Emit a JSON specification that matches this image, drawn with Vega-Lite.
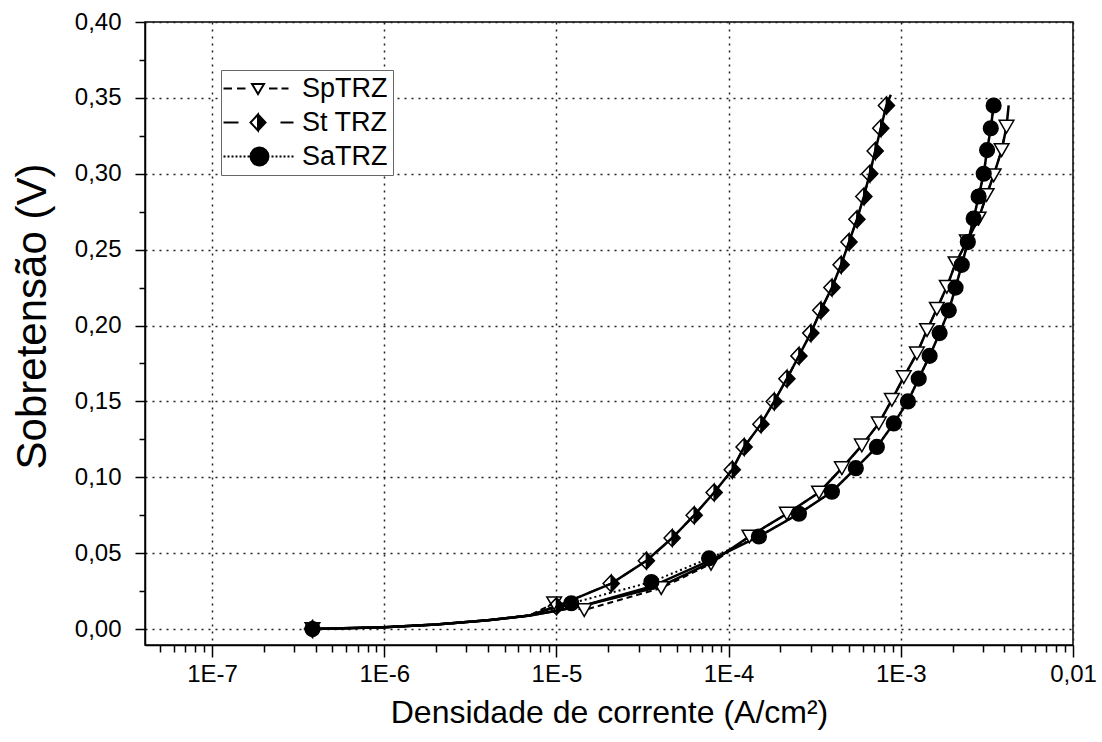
{
  "$schema": "https://vega.github.io/schema/vega-lite/v6.json",
  "autosize": {"type": "none"},
  "padding": {"left": 145, "top": 22, "right": 29, "bottom": 97},
  "width": 928,
  "height": 623,
  "background": "white",
  "datasets": {
    "points": [
      {"series": "SpTRZ", "j": 3.83e-7, "v": 0},
      {"series": "SpTRZ", "j": 9.7e-6, "v": 0.017},
      {"series": "SpTRZ", "j": 1.45e-5, "v": 0.0125},
      {"series": "SpTRZ", "j": 4.06e-5, "v": 0.027},
      {"series": "SpTRZ", "j": 7.9e-5, "v": 0.043},
      {"series": "SpTRZ", "j": 1.32e-4, "v": 0.061},
      {"series": "SpTRZ", "j": 2.18e-4, "v": 0.076},
      {"series": "SpTRZ", "j": 3.35e-4, "v": 0.090},
      {"series": "SpTRZ", "j": 4.55e-4, "v": 0.106},
      {"series": "SpTRZ", "j": 5.94e-4, "v": 0.121},
      {"series": "SpTRZ", "j": 7.45e-4, "v": 0.1355},
      {"series": "SpTRZ", "j": 8.87e-4, "v": 0.151},
      {"series": "SpTRZ", "j": 1.04e-3, "v": 0.166},
      {"series": "SpTRZ", "j": 1.24e-3, "v": 0.1816},
      {"series": "SpTRZ", "j": 1.42e-3, "v": 0.197},
      {"series": "SpTRZ", "j": 1.62e-3, "v": 0.211},
      {"series": "SpTRZ", "j": 1.85e-3, "v": 0.2255},
      {"series": "SpTRZ", "j": 2.08e-3, "v": 0.241},
      {"series": "SpTRZ", "j": 2.42e-3, "v": 0.2555},
      {"series": "SpTRZ", "j": 2.83e-3, "v": 0.2705},
      {"series": "SpTRZ", "j": 3.15e-3, "v": 0.286},
      {"series": "SpTRZ", "j": 3.46e-3, "v": 0.299},
      {"series": "SpTRZ", "j": 3.85e-3, "v": 0.3156},
      {"series": "SpTRZ", "j": 4.11e-3, "v": 0.331},
      {"series": "St TRZ", "j": 3.83e-7, "v": 0},
      {"series": "St TRZ", "j": 1.0e-5, "v": 0.015},
      {"series": "St TRZ", "j": 2.08e-5, "v": 0.030},
      {"series": "St TRZ", "j": 3.33e-5, "v": 0.045},
      {"series": "St TRZ", "j": 4.7e-5, "v": 0.060},
      {"series": "St TRZ", "j": 6.31e-5, "v": 0.075},
      {"series": "St TRZ", "j": 8.24e-5, "v": 0.090},
      {"series": "St TRZ", "j": 1.05e-4, "v": 0.105},
      {"series": "St TRZ", "j": 1.23e-4, "v": 0.120},
      {"series": "St TRZ", "j": 1.54e-4, "v": 0.135},
      {"series": "St TRZ", "j": 1.84e-4, "v": 0.150},
      {"series": "St TRZ", "j": 2.18e-4, "v": 0.165},
      {"series": "St TRZ", "j": 2.56e-4, "v": 0.180},
      {"series": "St TRZ", "j": 3.0e-4, "v": 0.195},
      {"series": "St TRZ", "j": 3.43e-4, "v": 0.210},
      {"series": "St TRZ", "j": 3.98e-4, "v": 0.225},
      {"series": "St TRZ", "j": 4.5e-4, "v": 0.240},
      {"series": "St TRZ", "j": 5.0e-4, "v": 0.255},
      {"series": "St TRZ", "j": 5.56e-4, "v": 0.270},
      {"series": "St TRZ", "j": 6.1e-4, "v": 0.285},
      {"series": "St TRZ", "j": 6.6e-4, "v": 0.300},
      {"series": "St TRZ", "j": 7.1e-4, "v": 0.315},
      {"series": "St TRZ", "j": 7.65e-4, "v": 0.330},
      {"series": "St TRZ", "j": 8.25e-4, "v": 0.345},
      {"series": "SaTRZ", "j": 3.83e-7, "v": 0},
      {"series": "SaTRZ", "j": 1.22e-5, "v": 0.017},
      {"series": "SaTRZ", "j": 3.56e-5, "v": 0.031},
      {"series": "SaTRZ", "j": 7.7e-5, "v": 0.0466},
      {"series": "SaTRZ", "j": 1.5e-4, "v": 0.061},
      {"series": "SaTRZ", "j": 2.56e-4, "v": 0.076},
      {"series": "SaTRZ", "j": 3.98e-4, "v": 0.0905},
      {"series": "SaTRZ", "j": 5.48e-4, "v": 0.106},
      {"series": "SaTRZ", "j": 7.26e-4, "v": 0.120},
      {"series": "SaTRZ", "j": 9.1e-4, "v": 0.1355},
      {"series": "SaTRZ", "j": 1.10e-3, "v": 0.150},
      {"series": "SaTRZ", "j": 1.27e-3, "v": 0.165},
      {"series": "SaTRZ", "j": 1.47e-3, "v": 0.180},
      {"series": "SaTRZ", "j": 1.68e-3, "v": 0.195},
      {"series": "SaTRZ", "j": 1.90e-3, "v": 0.210},
      {"series": "SaTRZ", "j": 2.08e-3, "v": 0.225},
      {"series": "SaTRZ", "j": 2.26e-3, "v": 0.240},
      {"series": "SaTRZ", "j": 2.45e-3, "v": 0.255},
      {"series": "SaTRZ", "j": 2.65e-3, "v": 0.2705},
      {"series": "SaTRZ", "j": 2.83e-3, "v": 0.285},
      {"series": "SaTRZ", "j": 3.03e-3, "v": 0.300},
      {"series": "SaTRZ", "j": 3.17e-3, "v": 0.3156},
      {"series": "SaTRZ", "j": 3.33e-3, "v": 0.330},
      {"series": "SaTRZ", "j": 3.46e-3, "v": 0.345}
    ],
    "curves": [
      {"series": "SpTRZ", "kind": "data", "j": 3.83e-7, "v": 0},
      {"series": "SpTRZ", "kind": "data", "j": 1e-6, "v": 0.0012},
      {"series": "SpTRZ", "kind": "data", "j": 2e-6, "v": 0.003},
      {"series": "SpTRZ", "kind": "data", "j": 4e-6, "v": 0.0058},
      {"series": "SpTRZ", "kind": "data", "j": 7e-6, "v": 0.009},
      {"series": "SpTRZ", "kind": "data", "j": 9.7e-6, "v": 0.017},
      {"series": "SpTRZ", "kind": "data", "j": 1.45e-5, "v": 0.0125},
      {"series": "SpTRZ", "kind": "data", "j": 4.06e-5, "v": 0.027},
      {"series": "SpTRZ", "kind": "data", "j": 7.9e-5, "v": 0.043},
      {"series": "SpTRZ", "kind": "data", "j": 1.32e-4, "v": 0.061},
      {"series": "SpTRZ", "kind": "data", "j": 2.18e-4, "v": 0.076},
      {"series": "SpTRZ", "kind": "data", "j": 3.35e-4, "v": 0.090},
      {"series": "SpTRZ", "kind": "data", "j": 4.55e-4, "v": 0.106},
      {"series": "SpTRZ", "kind": "data", "j": 5.94e-4, "v": 0.121},
      {"series": "SpTRZ", "kind": "data", "j": 7.45e-4, "v": 0.1355},
      {"series": "SpTRZ", "kind": "data", "j": 8.87e-4, "v": 0.151},
      {"series": "SpTRZ", "kind": "data", "j": 1.04e-3, "v": 0.166},
      {"series": "SpTRZ", "kind": "data", "j": 1.24e-3, "v": 0.1816},
      {"series": "SpTRZ", "kind": "data", "j": 1.42e-3, "v": 0.197},
      {"series": "SpTRZ", "kind": "data", "j": 1.62e-3, "v": 0.211},
      {"series": "SpTRZ", "kind": "data", "j": 1.85e-3, "v": 0.2255},
      {"series": "SpTRZ", "kind": "data", "j": 2.08e-3, "v": 0.241},
      {"series": "SpTRZ", "kind": "data", "j": 2.42e-3, "v": 0.2555},
      {"series": "SpTRZ", "kind": "data", "j": 2.83e-3, "v": 0.2705},
      {"series": "SpTRZ", "kind": "data", "j": 3.15e-3, "v": 0.286},
      {"series": "SpTRZ", "kind": "data", "j": 3.46e-3, "v": 0.299},
      {"series": "SpTRZ", "kind": "data", "j": 3.85e-3, "v": 0.3156},
      {"series": "SpTRZ", "kind": "data", "j": 4.11e-3, "v": 0.331},
      {"series": "St TRZ", "kind": "data", "j": 3.83e-7, "v": 0},
      {"series": "St TRZ", "kind": "data", "j": 1e-6, "v": 0.0012},
      {"series": "St TRZ", "kind": "data", "j": 2e-6, "v": 0.003},
      {"series": "St TRZ", "kind": "data", "j": 4e-6, "v": 0.0058},
      {"series": "St TRZ", "kind": "data", "j": 7e-6, "v": 0.009},
      {"series": "St TRZ", "kind": "data", "j": 1.0e-5, "v": 0.015},
      {"series": "St TRZ", "kind": "data", "j": 2.08e-5, "v": 0.030},
      {"series": "St TRZ", "kind": "data", "j": 3.33e-5, "v": 0.045},
      {"series": "St TRZ", "kind": "data", "j": 4.7e-5, "v": 0.060},
      {"series": "St TRZ", "kind": "data", "j": 6.31e-5, "v": 0.075},
      {"series": "St TRZ", "kind": "data", "j": 8.24e-5, "v": 0.090},
      {"series": "St TRZ", "kind": "data", "j": 1.05e-4, "v": 0.105},
      {"series": "St TRZ", "kind": "data", "j": 1.23e-4, "v": 0.120},
      {"series": "St TRZ", "kind": "data", "j": 1.54e-4, "v": 0.135},
      {"series": "St TRZ", "kind": "data", "j": 1.84e-4, "v": 0.150},
      {"series": "St TRZ", "kind": "data", "j": 2.18e-4, "v": 0.165},
      {"series": "St TRZ", "kind": "data", "j": 2.56e-4, "v": 0.180},
      {"series": "St TRZ", "kind": "data", "j": 3.0e-4, "v": 0.195},
      {"series": "St TRZ", "kind": "data", "j": 3.43e-4, "v": 0.210},
      {"series": "St TRZ", "kind": "data", "j": 3.98e-4, "v": 0.225},
      {"series": "St TRZ", "kind": "data", "j": 4.5e-4, "v": 0.240},
      {"series": "St TRZ", "kind": "data", "j": 5.0e-4, "v": 0.255},
      {"series": "St TRZ", "kind": "data", "j": 5.56e-4, "v": 0.270},
      {"series": "St TRZ", "kind": "data", "j": 6.1e-4, "v": 0.285},
      {"series": "St TRZ", "kind": "data", "j": 6.6e-4, "v": 0.300},
      {"series": "St TRZ", "kind": "data", "j": 7.1e-4, "v": 0.315},
      {"series": "St TRZ", "kind": "data", "j": 7.65e-4, "v": 0.330},
      {"series": "St TRZ", "kind": "data", "j": 8.25e-4, "v": 0.345},
      {"series": "SaTRZ", "kind": "data", "j": 3.83e-7, "v": 0},
      {"series": "SaTRZ", "kind": "data", "j": 1e-6, "v": 0.0012},
      {"series": "SaTRZ", "kind": "data", "j": 2e-6, "v": 0.003},
      {"series": "SaTRZ", "kind": "data", "j": 4e-6, "v": 0.0058},
      {"series": "SaTRZ", "kind": "data", "j": 7e-6, "v": 0.009},
      {"series": "SaTRZ", "kind": "data", "j": 1.22e-5, "v": 0.017},
      {"series": "SaTRZ", "kind": "data", "j": 3.56e-5, "v": 0.031},
      {"series": "SaTRZ", "kind": "data", "j": 7.7e-5, "v": 0.0466},
      {"series": "SaTRZ", "kind": "data", "j": 1.5e-4, "v": 0.061},
      {"series": "SaTRZ", "kind": "data", "j": 2.56e-4, "v": 0.076},
      {"series": "SaTRZ", "kind": "data", "j": 3.98e-4, "v": 0.0905},
      {"series": "SaTRZ", "kind": "data", "j": 5.48e-4, "v": 0.106},
      {"series": "SaTRZ", "kind": "data", "j": 7.26e-4, "v": 0.120},
      {"series": "SaTRZ", "kind": "data", "j": 9.1e-4, "v": 0.1355},
      {"series": "SaTRZ", "kind": "data", "j": 1.10e-3, "v": 0.150},
      {"series": "SaTRZ", "kind": "data", "j": 1.27e-3, "v": 0.165},
      {"series": "SaTRZ", "kind": "data", "j": 1.47e-3, "v": 0.180},
      {"series": "SaTRZ", "kind": "data", "j": 1.68e-3, "v": 0.195},
      {"series": "SaTRZ", "kind": "data", "j": 1.90e-3, "v": 0.210},
      {"series": "SaTRZ", "kind": "data", "j": 2.08e-3, "v": 0.225},
      {"series": "SaTRZ", "kind": "data", "j": 2.26e-3, "v": 0.240},
      {"series": "SaTRZ", "kind": "data", "j": 2.45e-3, "v": 0.255},
      {"series": "SaTRZ", "kind": "data", "j": 2.65e-3, "v": 0.2705},
      {"series": "SaTRZ", "kind": "data", "j": 2.83e-3, "v": 0.285},
      {"series": "SaTRZ", "kind": "data", "j": 3.03e-3, "v": 0.300},
      {"series": "SaTRZ", "kind": "data", "j": 3.17e-3, "v": 0.3156},
      {"series": "SaTRZ", "kind": "data", "j": 3.33e-3, "v": 0.330},
      {"series": "SaTRZ", "kind": "data", "j": 3.46e-3, "v": 0.345},
      {"series": "SpTRZ", "kind": "fit", "j": 3.83e-7, "v": 0},
      {"series": "SpTRZ", "kind": "fit", "j": 1e-6, "v": 0.0012},
      {"series": "SpTRZ", "kind": "fit", "j": 2e-6, "v": 0.003},
      {"series": "SpTRZ", "kind": "fit", "j": 4e-6, "v": 0.0058},
      {"series": "SpTRZ", "kind": "fit", "j": 7e-6, "v": 0.009},
      {"series": "SpTRZ", "kind": "fit", "j": 1e-5, "v": 0.012},
      {"series": "SpTRZ", "kind": "fit", "j": 1.5e-5, "v": 0.016},
      {"series": "SpTRZ", "kind": "fit", "j": 4e-5, "v": 0.028},
      {"series": "SpTRZ", "kind": "fit", "j": 7.9e-5, "v": 0.044},
      {"series": "SpTRZ", "kind": "fit", "j": 1.32e-4, "v": 0.061},
      {"series": "SpTRZ", "kind": "fit", "j": 2.18e-4, "v": 0.076},
      {"series": "SpTRZ", "kind": "fit", "j": 3.35e-4, "v": 0.090},
      {"series": "SpTRZ", "kind": "fit", "j": 4.55e-4, "v": 0.106},
      {"series": "SpTRZ", "kind": "fit", "j": 5.94e-4, "v": 0.121},
      {"series": "SpTRZ", "kind": "fit", "j": 7.45e-4, "v": 0.1355},
      {"series": "SpTRZ", "kind": "fit", "j": 8.87e-4, "v": 0.151},
      {"series": "SpTRZ", "kind": "fit", "j": 1.04e-3, "v": 0.166},
      {"series": "SpTRZ", "kind": "fit", "j": 1.24e-3, "v": 0.1816},
      {"series": "SpTRZ", "kind": "fit", "j": 1.42e-3, "v": 0.197},
      {"series": "SpTRZ", "kind": "fit", "j": 1.62e-3, "v": 0.211},
      {"series": "SpTRZ", "kind": "fit", "j": 1.85e-3, "v": 0.2255},
      {"series": "SpTRZ", "kind": "fit", "j": 2.08e-3, "v": 0.241},
      {"series": "SpTRZ", "kind": "fit", "j": 2.42e-3, "v": 0.2555},
      {"series": "SpTRZ", "kind": "fit", "j": 2.83e-3, "v": 0.2705},
      {"series": "SpTRZ", "kind": "fit", "j": 3.15e-3, "v": 0.286},
      {"series": "SpTRZ", "kind": "fit", "j": 3.46e-3, "v": 0.299},
      {"series": "SpTRZ", "kind": "fit", "j": 3.85e-3, "v": 0.3156},
      {"series": "SpTRZ", "kind": "fit", "j": 4.11e-3, "v": 0.331},
      {"series": "SpTRZ", "kind": "fit", "j": 4.23e-3, "v": 0.345},
      {"series": "St TRZ", "kind": "fit", "j": 3.83e-7, "v": 0},
      {"series": "St TRZ", "kind": "fit", "j": 1e-6, "v": 0.0012},
      {"series": "St TRZ", "kind": "fit", "j": 2e-6, "v": 0.003},
      {"series": "St TRZ", "kind": "fit", "j": 4e-6, "v": 0.0058},
      {"series": "St TRZ", "kind": "fit", "j": 7e-6, "v": 0.009},
      {"series": "St TRZ", "kind": "fit", "j": 1.0e-5, "v": 0.015},
      {"series": "St TRZ", "kind": "fit", "j": 2.08e-5, "v": 0.030},
      {"series": "St TRZ", "kind": "fit", "j": 3.33e-5, "v": 0.045},
      {"series": "St TRZ", "kind": "fit", "j": 4.7e-5, "v": 0.060},
      {"series": "St TRZ", "kind": "fit", "j": 6.31e-5, "v": 0.075},
      {"series": "St TRZ", "kind": "fit", "j": 8.24e-5, "v": 0.090},
      {"series": "St TRZ", "kind": "fit", "j": 1.05e-4, "v": 0.105},
      {"series": "St TRZ", "kind": "fit", "j": 1.23e-4, "v": 0.120},
      {"series": "St TRZ", "kind": "fit", "j": 1.54e-4, "v": 0.135},
      {"series": "St TRZ", "kind": "fit", "j": 1.84e-4, "v": 0.150},
      {"series": "St TRZ", "kind": "fit", "j": 2.18e-4, "v": 0.165},
      {"series": "St TRZ", "kind": "fit", "j": 2.56e-4, "v": 0.180},
      {"series": "St TRZ", "kind": "fit", "j": 3.0e-4, "v": 0.195},
      {"series": "St TRZ", "kind": "fit", "j": 3.43e-4, "v": 0.210},
      {"series": "St TRZ", "kind": "fit", "j": 3.98e-4, "v": 0.225},
      {"series": "St TRZ", "kind": "fit", "j": 4.5e-4, "v": 0.240},
      {"series": "St TRZ", "kind": "fit", "j": 5.0e-4, "v": 0.255},
      {"series": "St TRZ", "kind": "fit", "j": 5.56e-4, "v": 0.270},
      {"series": "St TRZ", "kind": "fit", "j": 6.1e-4, "v": 0.285},
      {"series": "St TRZ", "kind": "fit", "j": 6.6e-4, "v": 0.300},
      {"series": "St TRZ", "kind": "fit", "j": 7.1e-4, "v": 0.315},
      {"series": "St TRZ", "kind": "fit", "j": 7.65e-4, "v": 0.330},
      {"series": "St TRZ", "kind": "fit", "j": 8.25e-4, "v": 0.345},
      {"series": "St TRZ", "kind": "fit", "j": 8.75e-4, "v": 0.352},
      {"series": "SaTRZ", "kind": "fit", "j": 3.83e-7, "v": 0},
      {"series": "SaTRZ", "kind": "fit", "j": 1e-6, "v": 0.0012},
      {"series": "SaTRZ", "kind": "fit", "j": 2e-6, "v": 0.003},
      {"series": "SaTRZ", "kind": "fit", "j": 4e-6, "v": 0.0058},
      {"series": "SaTRZ", "kind": "fit", "j": 7e-6, "v": 0.009},
      {"series": "SaTRZ", "kind": "fit", "j": 1e-5, "v": 0.012},
      {"series": "SaTRZ", "kind": "fit", "j": 1.5e-5, "v": 0.016},
      {"series": "SaTRZ", "kind": "fit", "j": 3.56e-5, "v": 0.028},
      {"series": "SaTRZ", "kind": "fit", "j": 7.7e-5, "v": 0.045},
      {"series": "SaTRZ", "kind": "fit", "j": 1.5e-4, "v": 0.061},
      {"series": "SaTRZ", "kind": "fit", "j": 2.56e-4, "v": 0.076},
      {"series": "SaTRZ", "kind": "fit", "j": 3.98e-4, "v": 0.0905},
      {"series": "SaTRZ", "kind": "fit", "j": 5.48e-4, "v": 0.106},
      {"series": "SaTRZ", "kind": "fit", "j": 7.26e-4, "v": 0.120},
      {"series": "SaTRZ", "kind": "fit", "j": 9.1e-4, "v": 0.1355},
      {"series": "SaTRZ", "kind": "fit", "j": 1.10e-3, "v": 0.150},
      {"series": "SaTRZ", "kind": "fit", "j": 1.27e-3, "v": 0.165},
      {"series": "SaTRZ", "kind": "fit", "j": 1.47e-3, "v": 0.180},
      {"series": "SaTRZ", "kind": "fit", "j": 1.68e-3, "v": 0.195},
      {"series": "SaTRZ", "kind": "fit", "j": 1.90e-3, "v": 0.210},
      {"series": "SaTRZ", "kind": "fit", "j": 2.08e-3, "v": 0.225},
      {"series": "SaTRZ", "kind": "fit", "j": 2.26e-3, "v": 0.240},
      {"series": "SaTRZ", "kind": "fit", "j": 2.45e-3, "v": 0.255},
      {"series": "SaTRZ", "kind": "fit", "j": 2.65e-3, "v": 0.2705},
      {"series": "SaTRZ", "kind": "fit", "j": 2.83e-3, "v": 0.285},
      {"series": "SaTRZ", "kind": "fit", "j": 3.03e-3, "v": 0.300},
      {"series": "SaTRZ", "kind": "fit", "j": 3.17e-3, "v": 0.3156},
      {"series": "SaTRZ", "kind": "fit", "j": 3.33e-3, "v": 0.330},
      {"series": "SaTRZ", "kind": "fit", "j": 3.46e-3, "v": 0.345}
    ]
  },
  "encoding": {
    "x": {
      "field": "j", "type": "quantitative",
      "scale": {"type": "log", "domain": [4.08e-8, 0.01], "nice": false},
      "axis": {
        "values": [5e-8, 6e-8, 7e-8, 8e-8, 9e-8, 1e-7, 2e-7, 3e-7, 4e-7, 5e-7, 6e-7, 7e-7, 8e-7, 9e-7, 1e-6, 2e-6, 3e-6, 4e-6, 5e-6, 6e-6, 7e-6, 8e-6, 9e-6, 1e-5, 2e-5, 3e-5, 4e-5, 5e-5, 6e-5, 7e-5, 8e-5, 9e-5, 1e-4, 2e-4, 3e-4, 4e-4, 5e-4, 6e-4, 7e-4, 8e-4, 9e-4, 1e-3, 2e-3, 3e-3, 4e-3, 5e-3, 6e-3, 7e-3, 8e-3, 9e-3, 1e-2],
        "labelExpr": "abs(log(datum.value)/LN10 - round(log(datum.value)/LN10)) < 0.001 ? (datum.value > 0.005 ? '0,01' : '1E' + round(log(datum.value)/LN10)) : ''",
        "tickSize": {"condition": {"test": "abs(log(datum.value)/LN10 - round(log(datum.value)/LN10)) < 0.001", "value": 12}, "value": 7},
        "gridOpacity": {"condition": {"test": "abs(log(datum.value)/LN10 - round(log(datum.value)/LN10)) < 0.001", "value": 1}, "value": 0},
        "labelPadding": 5,
        "title": "Densidade de corrente (A/cm²)",
        "titleFontSize": 32,
        "titleY": 77,
        "titleBaseline": "alphabetic"
      }
    },
    "y": {
      "field": "v", "type": "quantitative",
      "scale": {"domain": [-0.0105, 0.4], "nice": false, "zero": false},
      "axis": {
        "values": [0, 0.025, 0.05, 0.075, 0.1, 0.125, 0.15, 0.175, 0.2, 0.225, 0.25, 0.275, 0.3, 0.325, 0.35, 0.375, 0.4],
        "labelExpr": "abs(datum.value*20 - round(datum.value*20)) < 0.001 ? replace(format(datum.value, '.2f'), '.', ',') : ''",
        "tickSize": {"condition": {"test": "abs(datum.value*20 - round(datum.value*20)) < 0.001", "value": 10}, "value": 6},
        "gridOpacity": {"condition": {"test": "abs(datum.value*20 - round(datum.value*20)) < 0.001", "value": 1}, "value": 0},
        "labelPadding": 14,
        "title": "Sobretensão (V)",
        "titleFontSize": 42,
        "titleX": -100,
        "titleY": 294,
        "titleAlign": "center",
        "titleBaseline": "alphabetic"
      }
    }
  },
  "layer": [
    {
      "data": {"name": "curves"},
      "transform": [{"filter": "datum.kind === 'data'"}],
      "mark": {"type": "line", "color": "black", "strokeWidth": 2},
      "encoding": {
        "strokeDash": {"field": "series", "type": "nominal", "scale": {"domain": ["SaTRZ", "SpTRZ", "St TRZ"], "range": [[2, 3], [6, 4], [12, 8]]}, "legend": null}
      }
    },
    {
      "data": {"name": "curves"},
      "transform": [{"filter": "datum.kind === 'fit'"}],
      "mark": {"type": "line", "color": "black", "strokeWidth": 2.5},
      "encoding": {
        "detail": {"field": "series", "type": "nominal"}
      }
    },
    {
      "data": {"name": "points"},
      "transform": [{"filter": "datum.series === 'SpTRZ'"}],
      "mark": {"type": "point", "shape": "triangle-down", "filled": true, "fill": "white", "stroke": "black", "strokeWidth": 1.5, "size": 215, "opacity": 1},
      "encoding": {}
    },
    {
      "data": {"name": "points"},
      "transform": [{"filter": "datum.series === 'St TRZ'"}],
      "mark": {"type": "point", "shape": "M0,-1.15L1.1,0L0,1.15L-1.1,0ZM0,-1.15L-1.1,0L0,1.15Z", "filled": true, "fill": "black", "stroke": "black", "strokeWidth": 1.5, "size": 215, "opacity": 1},
      "encoding": {}
    },
    {
      "data": {"name": "points"},
      "transform": [{"filter": "datum.series === 'SaTRZ'"}],
      "mark": {"type": "point", "shape": "circle", "filled": true, "fill": "black", "stroke": "black", "strokeWidth": 1.5, "size": 215, "opacity": 1},
      "encoding": {}
    },
    {
      "data": {"name": "points"},
      "transform": [{"filter": "datum.j < 0"}],
      "mark": {"type": "point", "filled": true, "strokeWidth": 2, "opacity": 1},
      "encoding": {
        "fill": {
          "field": "series", "type": "nominal",
          "scale": {"domain": ["SpTRZ", "St TRZ", "SaTRZ"], "range": ["white", "black", "black"]},
          "legend": {
            "title": null,
            "orient": "none",
            "legendX": 76,
            "legendY": 48,
            "symbolSize": 400,
            "symbolStrokeWidth": 2,
            "symbolOpacity": 1,
            "labelFont": "Liberation Sans",
            "labelFontSize": 27,
            "labelColor": "black",
            "labelOffset": 49,
            "padding": 5,
            "rowPadding": 6,
            "strokeColor": "#666666",
            "fillColor": "white"
          }
        },
        "stroke": {
          "field": "series", "type": "nominal",
          "scale": {"domain": ["SpTRZ", "St TRZ", "SaTRZ"], "range": ["black", "black", "black"]},
          "legend": {
            "title": null,
            "orient": "none",
            "legendX": 76,
            "legendY": 48,
            "symbolSize": 400,
            "symbolStrokeWidth": 2,
            "symbolOpacity": 1,
            "labelFont": "Liberation Sans",
            "labelFontSize": 27,
            "labelColor": "black",
            "labelOffset": 49,
            "padding": 5,
            "rowPadding": 6,
            "strokeColor": "#666666",
            "fillColor": "white"
          }
        },
        "shape": {
          "field": "series", "type": "nominal",
          "scale": {"domain": ["SpTRZ", "St TRZ", "SaTRZ"], "range": [
            "M-1.6,0L-0.75,0M-0.25,0L0.6,0M1.25,-0.45L2.45,-0.45L1.85,0.55ZM2.95,0L3.8,0M4.2,0L4.9,0",
            "M-1.6,0L-0.1,0M1.85,-0.8L2.6,0L1.85,0.8L1.1,0ZM1.85,-0.8L1.1,0L1.85,0.8ZM4.1,0L5.4,0",
            "M-1.6,0L-1.4,0M-1.2,0L-1,0M-0.8,0L-0.6,0M-0.4,0L-0.2,0M0,0L0.2,0M0.4,0L0.6,0M0.8,0L1,0M2.9,0A0.9,0.9,0,1,1,1.1,0A0.9,0.9,0,1,1,2.9,0ZM3.2,0L3.4,0M3.6,0L3.8,0M4,0L4.2,0M4.4,0L4.6,0M4.8,0L5,0M5.2,0L5.4,0"
          ]},
          "legend": {
            "title": null,
            "orient": "none",
            "legendX": 76,
            "legendY": 48,
            "symbolSize": 400,
            "symbolStrokeWidth": 2,
            "symbolOpacity": 1,
            "labelFont": "Liberation Sans",
            "labelFontSize": 27,
            "labelColor": "black",
            "labelOffset": 49,
            "padding": 5,
            "rowPadding": 6,
            "strokeColor": "#666666",
            "fillColor": "white"
          }
        }
      }
    }
  ],
  "config": {
    "font": "Liberation Sans",
    "view": {"stroke": "black", "strokeWidth": 1.5},
    "axis": {
      "grid": true,
      "gridColor": "#222222",
      "gridDash": [2, 5],
      "gridWidth": 1.5,
      "domainColor": "black",
      "domainWidth": 1.5,
      "tickColor": "black",
      "tickWidth": 1.5,
      "labelFont": "Liberation Sans",
      "labelFontSize": 24,
      "labelColor": "black",
      "labelOverlap": false,
      "labelFlush": false,
      "titleFont": "Liberation Sans",
      "titleFontWeight": "normal",
      "titleColor": "black"
    }
  }
}
